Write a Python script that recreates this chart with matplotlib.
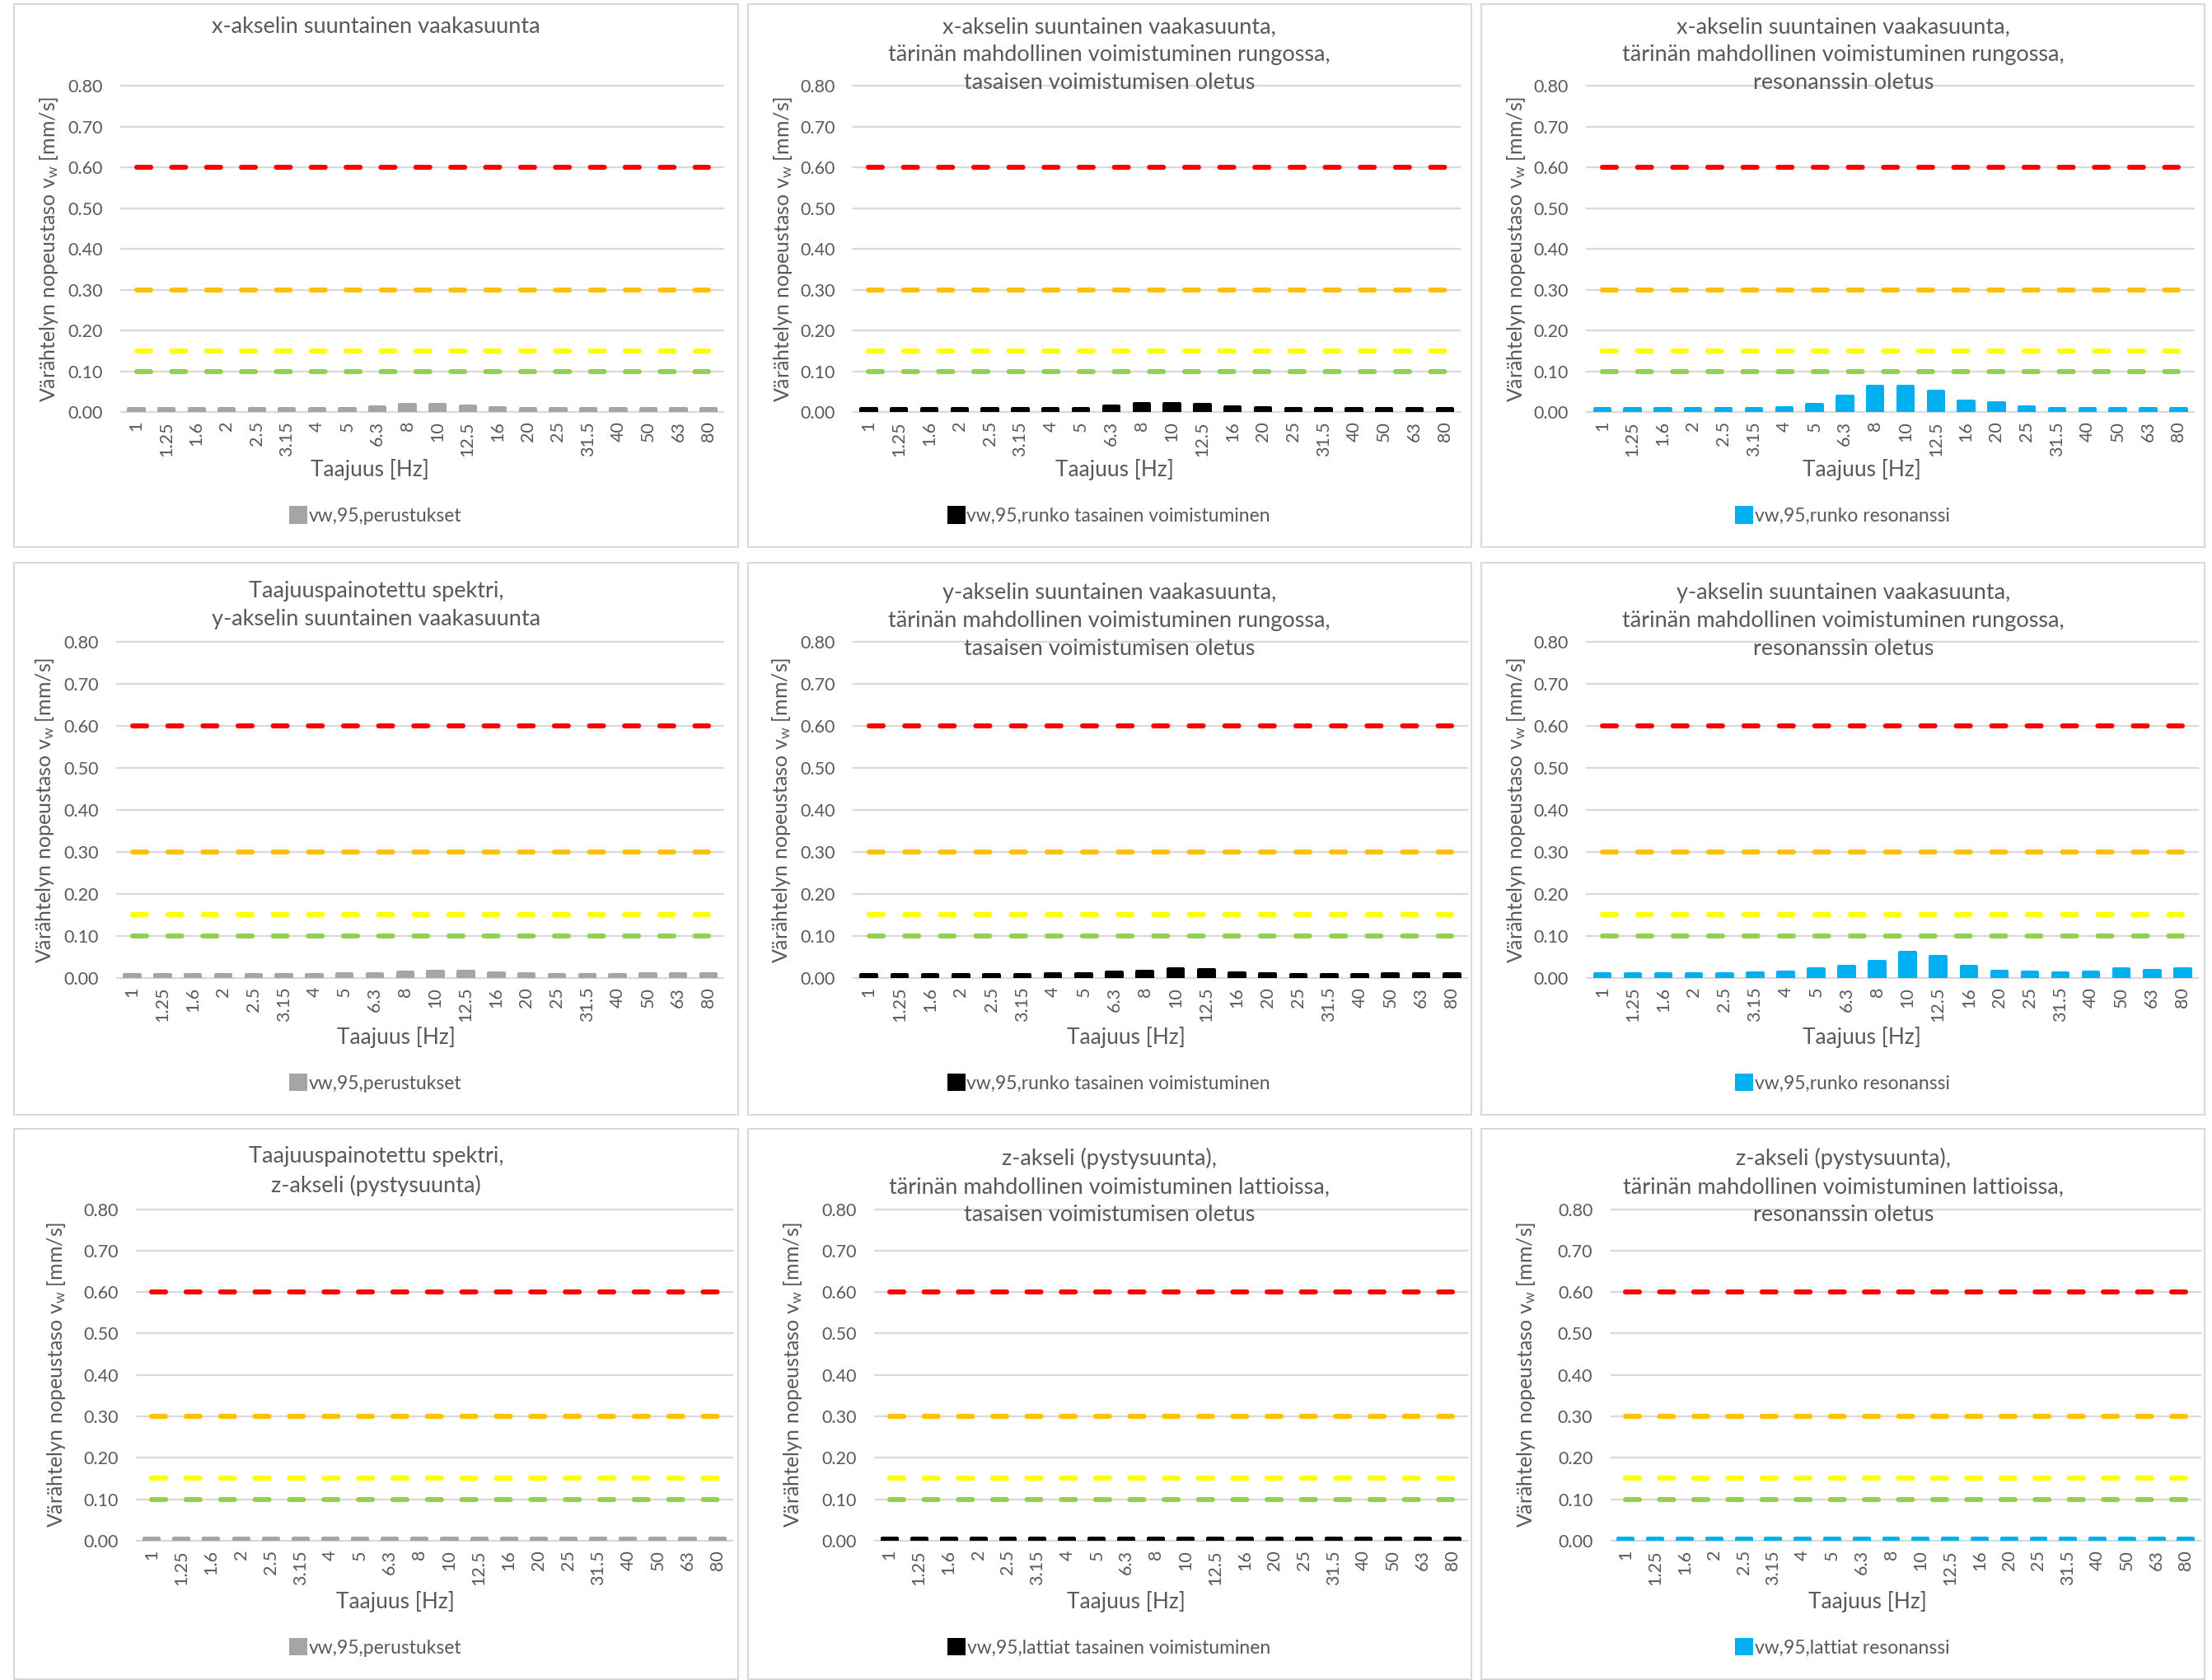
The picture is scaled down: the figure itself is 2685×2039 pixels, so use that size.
import numpy as np
import matplotlib.pyplot as plt
from matplotlib.patches import Rectangle

plt.rcParams['font.family'] = ['Lato', 'DejaVu Sans']
plt.rcParams['mathtext.default'] = 'regular'

# frequency bands (1/3 octave)
freqs = ['1', '1.25', '1.6', '2', '2.5', '3.15', '4', '5', '6.3', '8',
         '10', '12.5', '16', '20', '25', '31.5', '40', '50', '63', '80']

# limit lines [mm/s]
limit_levels = [0.60, 0.30, 0.15, 0.10]
limit_colors = ['#FF0000', '#FFC000', '#FFFF00', '#92D050']

# vw,95 values [mm/s]
x_perustukset = [0.008, 0.008, 0.008, 0.008, 0.008, 0.008, 0.008, 0.009, 0.013, 0.018,
                 0.018, 0.014, 0.010, 0.009, 0.008, 0.008, 0.008, 0.008, 0.008, 0.008]
x_runko_tasainen = [0.008, 0.008, 0.008, 0.008, 0.008, 0.008, 0.008, 0.009, 0.015, 0.021,
                    0.021, 0.018, 0.012, 0.010, 0.008, 0.008, 0.008, 0.008, 0.008, 0.008]
x_runko_resonanssi = [0.008, 0.008, 0.008, 0.008, 0.008, 0.008, 0.010, 0.018, 0.038, 0.063,
                      0.063, 0.051, 0.027, 0.023, 0.012, 0.009, 0.009, 0.009, 0.008, 0.008]
y_perustukset = [0.007, 0.007, 0.007, 0.007, 0.007, 0.007, 0.007, 0.009, 0.010, 0.013,
                 0.016, 0.015, 0.011, 0.009, 0.008, 0.008, 0.008, 0.009, 0.009, 0.009]
y_runko_tasainen = [0.008, 0.008, 0.008, 0.008, 0.008, 0.008, 0.009, 0.010, 0.013, 0.015,
                    0.021, 0.019, 0.012, 0.009, 0.008, 0.008, 0.008, 0.010, 0.010, 0.010]
y_runko_resonanssi = [0.009, 0.009, 0.009, 0.009, 0.009, 0.011, 0.014, 0.020, 0.027, 0.039,
                      0.061, 0.051, 0.026, 0.016, 0.013, 0.012, 0.013, 0.021, 0.017, 0.020]
z_perustukset = [0.005, 0.005, 0.005, 0.005, 0.005, 0.005, 0.005, 0.005, 0.005, 0.005,
                 0.005, 0.005, 0.005, 0.005, 0.005, 0.005, 0.005, 0.005, 0.005, 0.005]
z_lattiat_tasainen = [0.005, 0.005, 0.005, 0.005, 0.005, 0.005, 0.005, 0.005, 0.005, 0.005,
                      0.005, 0.005, 0.005, 0.005, 0.005, 0.005, 0.005, 0.005, 0.005, 0.005]
z_lattiat_resonanssi = [0.005, 0.005, 0.005, 0.005, 0.005, 0.005, 0.005, 0.005, 0.005, 0.005,
                        0.005, 0.005, 0.005, 0.005, 0.005, 0.005, 0.005, 0.005, 0.005, 0.005]

titles = [
    ['x-akselin suuntainen vaakasuunta',
     'x-akselin suuntainen vaakasuunta,\ntärinän mahdollinen voimistuminen rungossa,\ntasaisen voimistumisen oletus',
     'x-akselin suuntainen vaakasuunta,\ntärinän mahdollinen voimistuminen rungossa,\nresonanssin oletus'],
    ['Taajuuspainotettu spektri,\ny-akselin suuntainen vaakasuunta',
     'y-akselin suuntainen vaakasuunta,\ntärinän mahdollinen voimistuminen rungossa,\ntasaisen voimistumisen oletus',
     'y-akselin suuntainen vaakasuunta,\ntärinän mahdollinen voimistuminen rungossa,\nresonanssin oletus'],
    ['Taajuuspainotettu spektri,\nz-akseli (pystysuunta)',
     'z-akseli (pystysuunta),\ntärinän mahdollinen voimistuminen lattioissa,\ntasaisen voimistumisen oletus',
     'z-akseli (pystysuunta),\ntärinän mahdollinen voimistuminen lattioissa,\nresonanssin oletus'],
]
series = [
    [x_perustukset, x_runko_tasainen, x_runko_resonanssi],
    [y_perustukset, y_runko_tasainen, y_runko_resonanssi],
    [z_perustukset, z_lattiat_tasainen, z_lattiat_resonanssi],
]
legend_labels = [
    ['vw,95,perustukset', 'vw,95,runko tasainen voimistuminen', 'vw,95,runko resonanssi'],
    ['vw,95,perustukset', 'vw,95,runko tasainen voimistuminen', 'vw,95,runko resonanssi'],
    ['vw,95,perustukset', 'vw,95,lattiat tasainen voimistuminen', 'vw,95,lattiat resonanssi'],
]
bar_colors = ['#A5A5A5', '#000000', '#00B0F0']

# layout, measured on a 1568 px wide copy of the original
S = 2685 / 1568
W, H = 2685, 2039
panel_cols = [(10, 523), (530, 1043), (1050, 1563)]
panel_rows = [(3, 388), (399, 790), (800, 1190)]
plot_y = [(61, 292), (455, 693), (857, 1092)]
plot_x = [[(86, 513), (605, 1035), (1125, 1555)],
          [(83, 513), (605, 1040), (1125, 1558)],
          [(97, 519), (620, 1040), (1142, 1560)]]
title_y = [[19, 39, 39], [429, 440, 440], [830, 841, 841]]
xlabel_pos = [[262, 790, 1320], [281, 798, 1320], [280, 798, 1324]]
xlabel_y = [333, 735, 1135]
ylabel_x = [[35, 555, 1075], [32, 554, 1075], [40, 562, 1082]]
legend_y = [366, 768, 1168]

text_color = '#595959'
grid_color = '#D9D9D9'
line_w_px = 6.1      # limit line width in pixels
dash_on_px = 17.0    # dash length without the round caps


def fx(px):
    return px * S / W


def fy(py):
    return 1 - py * S / H


fig = plt.figure(figsize=(W / 100, H / 100), dpi=100)
x = np.arange(len(freqs))

for r in range(3):
    for c in range(3):
        px0, px1 = panel_cols[c]
        py0, py1 = panel_rows[r]
        fig.patches.append(Rectangle((fx(px0), fy(py1)), fx(px1) - fx(px0), fy(py0) - fy(py1),
                                     transform=fig.transFigure, fill=False,
                                     edgecolor=grid_color, linewidth=1.5))

        ax0, ax1 = plot_x[r][c]
        ay0, ay1 = plot_y[r]
        ax = fig.add_axes([fx(ax0), fy(ay1), fx(ax1) - fx(ax0), fy(ay0) - fy(ay1)])
        ax.patch.set_alpha(0)

        bars = ax.bar(x, series[r][c], width=0.5, color=bar_colors[c], edgecolor=bar_colors[c],
                      linewidth=2.9, joinstyle='round', label=legend_labels[r][c], zorder=2)

        # dash period chosen so 17 whole dashes fit between first and last band
        line_len = (ax1 - ax0) * S * (len(x) - 1) / len(x)
        period = (line_len - dash_on_px) / 16
        dashes = (dash_on_px / line_w_px, (period - dash_on_px) / line_w_px)
        for level, col in zip(limit_levels, limit_colors):
            ax.plot(x, np.full(len(x), level), color=col, linewidth=line_w_px * 0.72,
                    dashes=dashes, dash_capstyle='round', zorder=3)

        ax.set_xlim(-0.5, len(x) - 0.5)
        ax.set_ylim(0, 0.8)
        ax.set_yticks(np.arange(0, 0.81, 0.1))
        ax.set_yticklabels([f'{v:.2f}' for v in np.arange(0, 0.81, 0.1)])
        ax.set_xticks(x)
        ax.set_xticklabels(freqs, rotation=90)
        ax.tick_params(length=0, labelsize=15.5, labelcolor=text_color)
        ax.tick_params(axis='x', pad=8)
        ax.tick_params(axis='y', pad=16)
        for s in ax.spines.values():
            s.set_visible(False)
        ax.set_axisbelow(True)
        ax.yaxis.grid(True, color=grid_color, linewidth=1.6)
        for gl in ax.yaxis.get_gridlines():
            gl.set_clip_on(False)

        ax.set_xlabel('Taajuus [Hz]', fontsize=19, color=text_color, va='center')
        ax.xaxis.set_label_coords(fx(xlabel_pos[r][c]), fy(xlabel_y[r]), transform=fig.transFigure)
        ax.set_ylabel('Värähtelyn nopeustaso v$_{w}$ [mm/s]', fontsize=18, color=text_color, va='center')
        ax.yaxis.set_label_coords(fx(ylabel_x[r][c]), fy((ay0 + ay1) / 2), transform=fig.transFigure)

        fig.text(fx((px0 + px1) / 2), fy(title_y[r][c]), titles[r][c], ha='center', va='center',
                 fontsize=19.5, color=text_color, linespacing=1.46)

        ax.legend(handles=[bars], loc='center', bbox_to_anchor=(fx((px0 + px1) / 2), fy(legend_y[r])),
                  bbox_transform=fig.transFigure, frameon=False, fontsize=16.5,
                  labelcolor=text_color, handlelength=0.8, handleheight=0.8, handletextpad=0.15)

fig.savefig('out.png', dpi=100, facecolor='white')
